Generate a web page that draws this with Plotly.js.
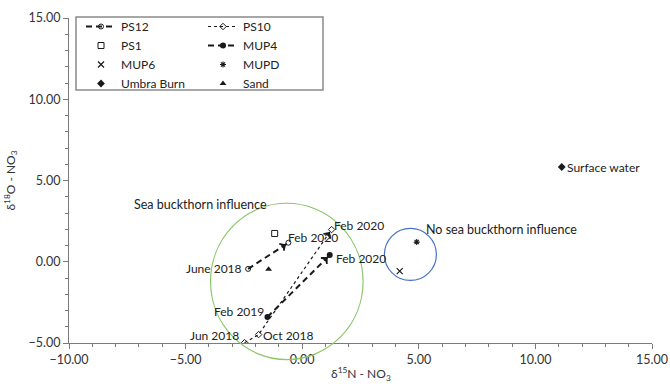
<!DOCTYPE html>
<html>
<head>
<meta charset="utf-8">
<script src="https://cdn.plot.ly/plotly-3.0.1.min.js"></script>
<style>html,body{margin:0;padding:0;background:#fff;}#chart{width:670px;height:384px;}</style>
</head>
<body>
<div id="chart"></div>
<script>
// ---- data (δ15N, δ18O of nitrate) ----
const ps12X = [-2.32, -0.59];
const ps12Y = [-0.44, 1.17];
const ps12Labels = ['June 2018', 'Feb 2020'];
const ps10X = [-2.47, -1.87, 1.26];
const ps10Y = [-4.98, -4.48, 1.98];
const ps10Labels = ['Jun 2018', 'Oct 2018', 'Feb 2020'];
const mup4X = [-1.49, 1.18];
const mup4Y = [-3.40, 0.41];
const mup4Labels = ['Feb 2019', 'Feb 2020'];
const ps1X = [-1.18];
const ps1Y = [1.74];
const mup6X = [4.18];
const mup6Y = [-0.58];
const mupdX = [4.91];
const mupdY = [1.21];
const umbraX = [11.13];
const umbraY = [5.83];
const umbraLabels = ['Surface water'];
const sandX = [-1.44];
const sandY = [-0.46];

const xTickVals = [-10, -5, 0, 5, 10, 15];
const yTickVals = [-5, 0, 5, 10, 15];

// region outlines (data units: center x, center y, radius x, radius y)
const seaZone = {cx: -0.66, cy: -1.21, rx: 3.27, ry: 4.81, label: 'Sea buckthorn influence', lx: -4.35, ly: 3.55};
const noSeaZone = {cx: 4.64, cy: 0.45, rx: 1.115, ry: 1.60, label: 'No sea buckthorn influence', lx: 5.21, ly: 2.01};

// ---- layout constants ----
const W = 670, H = 384;
const M = {l: 69, r: 18, t: 18, b: 41};
const xR = [-10, 15], yR = [-5, 15];
const plotW = W - M.l - M.r, plotH = H - M.t - M.b;
const FONT = 'Lato, "Open Sans", sans-serif';
const INK = '#1a1a1a';
const kx = plotW / (xR[1] - xR[0]), ky = plotH / (yR[1] - yR[0]);

function px(x){ return (x - xR[0]) / (xR[1] - xR[0]); }
function py(y){ return (y - yR[0]) / (yR[1] - yR[0]); }

// arrowhead placed a few pixels before the final point, rotated along the last segment
function arrowPt(xs, ys, back){
  const n = xs.length;
  const dx = (xs[n-1] - xs[n-2]) * kx;
  const dy = (ys[n-1] - ys[n-2]) * ky;
  const L = Math.sqrt(dx*dx + dy*dy);
  const t = 1 - back / L;
  const ang = Math.atan2(dx, dy) * 180 / Math.PI; // clockwise from north
  return {x: [xs[n-2] + (xs[n-1]-xs[n-2])*t], y: [ys[n-2] + (ys[n-1]-ys[n-2])*t], angle: ang};
}

const traces = [
  {name: 'PS12', x: ps12X, y: ps12Y, mode: 'lines+markers', legend: 'legend',
   line: {color: INK, width: 2, dash: '6px,4px'},
   marker: {symbol: 'circle-open', size: 5, color: INK, line: {width: 1, color: INK}}},
  {name: 'PS10', x: ps10X, y: ps10Y, mode: 'lines+markers', legend: 'legend2',
   line: {color: INK, width: 1.2, dash: 'dot'},
   marker: {symbol: 'diamond-open', size: 5, color: INK, line: {width: 1, color: INK}}},
  {name: 'PS1', x: ps1X, y: ps1Y, mode: 'markers', legend: 'legend',
   marker: {symbol: 'square-open', size: 6, color: INK, line: {width: 1, color: INK}}},
  {name: 'MUP4', x: mup4X, y: mup4Y, mode: 'lines+markers', legend: 'legend2',
   line: {color: INK, width: 2, dash: '6px,4px'},
   marker: {symbol: 'circle', size: 6, color: INK}},
  {name: 'MUP6', x: mup6X, y: mup6Y, mode: 'markers', legend: 'legend',
   marker: {symbol: 'x-thin-open', size: 6, color: INK, line: {width: 1.2, color: INK}}},
  {name: 'MUPD', x: mupdX, y: mupdY, mode: 'markers', legend: 'legend2',
   marker: {symbol: 'asterisk-open', size: 5, color: INK, line: {width: 1.1, color: INK}}},
  {name: 'Umbra Burn', x: umbraX, y: umbraY, mode: 'markers', legend: 'legend',
   marker: {symbol: 'diamond', size: 6, color: INK}},
  {name: 'Sand', x: sandX, y: sandY, mode: 'markers', legend: 'legend2',
   marker: {symbol: 'triangle-up', size: 6, color: INK}}
];

[[ps12X, ps12Y], [ps10X, ps10Y], [mup4X, mup4Y]].forEach(function(s){
  const a = arrowPt(s[0], s[1], 4);
  traces.push({x: a.x, y: a.y, mode: 'markers', showlegend: false, hoverinfo: 'skip',
    marker: {symbol: 'arrow-wide-open', angle: a.angle, size: 6, color: INK,
             line: {width: 1.6, color: INK}}});
});

// point labels
const annotations = [];
function lab(x, y, text, anchor, xs, ys){
  annotations.push({x: x, y: y, xref: 'x', yref: 'y', text: text, showarrow: false,
    xanchor: anchor, yanchor: 'middle', xshift: xs, yshift: ys,
    font: {family: FONT, size: 12, color: '#222'}});
}
lab(ps12X[0], ps12Y[0], ps12Labels[0], 'right', -4, 0);
lab(ps12X[1], ps12Y[1], ps12Labels[1], 'left', -2, 5);
lab(ps10X[0], ps10Y[0], ps10Labels[0], 'right', -4, 7);
lab(ps10X[1], ps10Y[1], ps10Labels[1], 'left', 2, -1);
lab(ps10X[2], ps10Y[2], ps10Labels[2], 'left', 0, 4);
lab(mup4X[0], mup4Y[0], mup4Labels[0], 'right', -1, 6);
lab(mup4X[1], mup4Y[1], mup4Labels[1], 'left', 4, -3);
lab(umbraX[0], umbraY[0], umbraLabels[0], 'left', 3, 0);
[seaZone, noSeaZone].forEach(function(z, i){
  annotations.push({x: z.lx, y: z.ly, xref: 'x', yref: 'y', text: z.label, showarrow: false,
    xanchor: i === 0 ? 'center' : 'left', yanchor: 'middle',
    font: {family: FONT, size: 12.5, color: '#222'}});
});
// x-axis title placed below tick labels
annotations.push({x: 0.5, y: -(374 - (H - M.b)) / plotH, xref: 'paper', yref: 'paper',
  text: 'δ<sup>15</sup>N - NO<sub>3</sub>', showarrow: false, xanchor: 'center', yanchor: 'middle',
  font: {family: FONT, size: 12, color: '#333'}});

const shapes = [
  {type: 'circle', xref: 'paper', yref: 'paper',
   x0: px(seaZone.cx - seaZone.rx), x1: px(seaZone.cx + seaZone.rx),
   y0: py(seaZone.cy - seaZone.ry), y1: py(seaZone.cy + seaZone.ry),
   line: {color: '#8cc66a', width: 1.2}},
  {type: 'circle', xref: 'paper', yref: 'paper',
   x0: px(noSeaZone.cx - noSeaZone.rx), x1: px(noSeaZone.cx + noSeaZone.rx),
   y0: py(noSeaZone.cy - noSeaZone.ry), y1: py(noSeaZone.cy + noSeaZone.ry),
   line: {color: '#4a72c4', width: 1.2}},
  // legend frame
  {type: 'rect', xref: 'paper', yref: 'paper',
   x0: (76 - M.l) / plotW, x1: (323 - M.l) / plotW,
   y0: (H - M.b - 90) / plotH, y1: (H - M.b - 17) / plotH,
   line: {color: '#8a8a8a', width: 1.5}, fillcolor: 'rgba(255,255,255,1)', layer: 'below'}
];

const axisCommon = {
  showgrid: false, zeroline: false, showline: true, linecolor: '#7a7a7a', linewidth: 1,
  ticks: 'outside', ticklen: 5, tickcolor: '#7a7a7a', tickwidth: 1,
  tickformat: '.2f', tickfont: {family: FONT, size: 12.5, color: '#333'},
  minor: {dtick: 1, ticks: 'outside', ticklen: 3, tickcolor: '#7a7a7a', tickwidth: 1},
  fixedrange: true
};

const legendCommon = {
  bgcolor: 'rgba(0,0,0,0)', borderwidth: 0, xanchor: 'left', yanchor: 'top',
  font: {family: FONT, size: 12, color: '#222'}, tracegroupgap: 0, itemwidth: 30
};

const layout = {
  width: W, height: H, margin: M,
  paper_bgcolor: '#fff', plot_bgcolor: '#fff',
  font: {family: FONT},
  xaxis: Object.assign({}, axisCommon, {range: xR, tickmode: 'array', tickvals: xTickVals}),
  yaxis: Object.assign({}, axisCommon, {range: yR, tickmode: 'array', tickvals: yTickVals,
    title: {text: 'δ<sup>18</sup>O - NO<sub>3</sub>', font: {family: FONT, size: 12, color: '#333'}, standoff: 10}}),
  legend: Object.assign({}, legendCommon, {x: (81 - M.l) / plotW, y: (H - M.b - 12) / plotH}),
  legend2: Object.assign({}, legendCommon, {x: (203 - M.l) / plotW, y: (H - M.b - 12) / plotH}),
  shapes: shapes,
  annotations: annotations,
  showlegend: true
};

Plotly.newPlot('chart', traces, layout, {displayModeBar: false, staticPlot: true});
</script>
</body>
</html>
